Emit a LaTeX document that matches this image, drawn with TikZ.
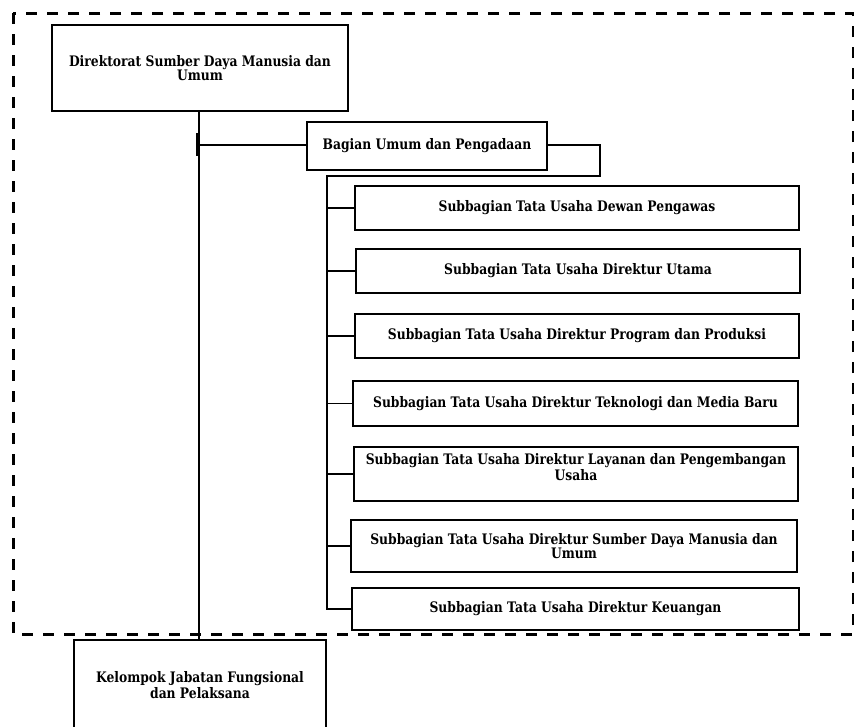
\documentclass[tikz,border=0pt]{standalone}
\usepackage{fontspec}
\setmainfont{DejaVu Serif}[FakeStretch=0.85]
\begin{document}
\begin{tikzpicture}[x=1pt,y=-1pt,
  unit/.style={draw, line width=1.8pt, align=center, inner sep=0pt,
    font=\bfseries\fontsize{14.5}{12.5}\selectfont},
  link/.style={line width=1.8pt},
  frame/.style={line width=3pt, dash pattern=on 11pt off 10pt}]
\useasboundingbox (0,0) rectangle (854,726);

% dashed boundary of the directorate
\draw[frame] (13,13) rectangle (853,634);

% directorate and its sections
\node[unit, minimum width=296pt, minimum height=86pt] (dir) at (200,68)
  {Direktorat Sumber Daya Manusia dan\\Umum};
\node[unit, minimum width=240pt, minimum height=48pt] (bag) at (427,146)
  {Bagian Umum dan Pengadaan};

\node[unit, minimum width=444pt, minimum height=44pt] (s1) at (577,208)
  {Subbagian Tata Usaha Dewan Pengawas};
\node[unit, minimum width=444pt, minimum height=44pt] (s2) at (578,271)
  {Subbagian Tata Usaha Direktur Utama};
\node[unit, minimum width=444pt, minimum height=44pt] (s3) at (577,336)
  {Subbagian Tata Usaha Direktur Program dan Produksi};
\node[unit, minimum width=445pt, minimum height=45pt] (s4) at (575.5,403.5)
  {Subbagian Tata Usaha Direktur Teknologi dan Media Baru};
\node[unit, minimum width=444pt, minimum height=54pt] (s5) at (576,474)
  {Subbagian Tata Usaha Direktur Layanan dan Pengembangan\\Usaha\rule[-14pt]{0pt}{0pt}};
\node[unit, minimum width=446pt, minimum height=52pt] (s6) at (574,546)
  {Subbagian Tata Usaha Direktur Sumber Daya Manusia dan\\Umum};
\node[unit, minimum width=447pt, minimum height=42pt] (s7) at (575.5,609)
  {Subbagian Tata Usaha Direktur Keuangan};

\node[unit, minimum width=252pt, minimum height=90pt] (jab) at (200,685)
  {Kelompok Jabatan Fungsional\\dan Pelaksana};

% connectors
\coordinate (j1) at (199,145);
\coordinate (r1) at (600,145);
\coordinate (r2) at (600,176);
\coordinate (b0) at (327,176);
\draw[link] (dir.south -| j1) -- (jab.north -| j1);
\draw[link] (197,133) -- (197,156);
\draw[link] (j1) -- (j1 -| bag.west);
\draw[link] (bag.east |- r1) -- (r1) -- (r2) -- (b0) |- (s7.west);
\foreach \s in {s1,s2,s3,s4,s5,s6}
  \draw[link] (b0 |- \s.west) -- (\s.west);
\end{tikzpicture}
\end{document}
